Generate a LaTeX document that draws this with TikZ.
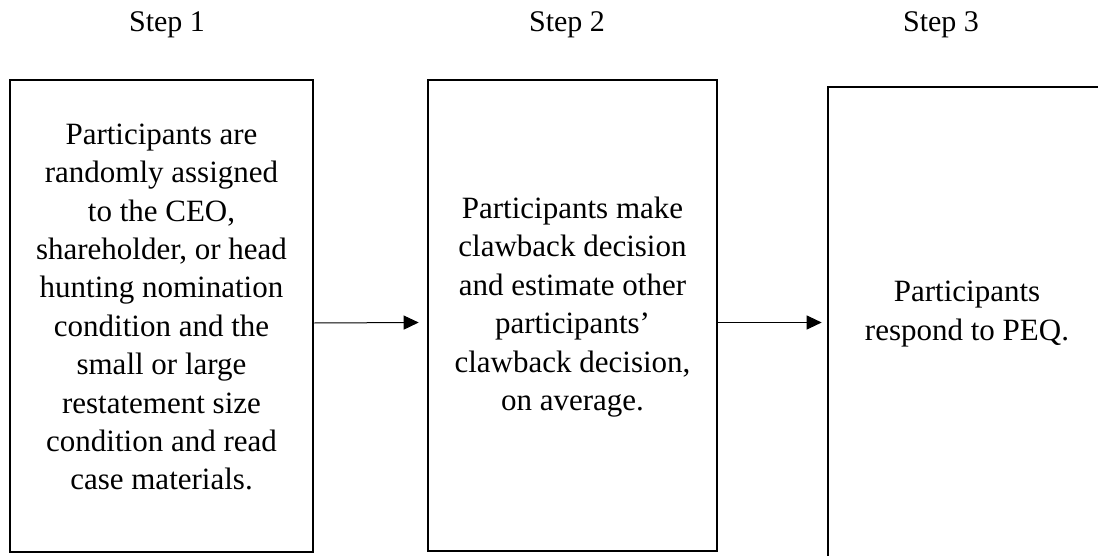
\documentclass[tikz,border=0pt]{standalone}
\usepackage{fontspec}
\setmainfont{Liberation Serif}
\usetikzlibrary{arrows.meta}

\begin{document}
\begin{tikzpicture}[x=0.5pt,y=-0.5pt,
    every node/.style={font=\fontsize{15.5}{19.2}\selectfont},
    stepbox/.style={draw,line width=1.3pt,minimum width=#1,inner sep=0pt},
    boxtext/.style={align=center,inner sep=0pt},
    steplabel/.style={anchor=base,inner sep=0pt,font=\fontsize{15}{18}\selectfont},
    flow/.style={line width=0.5pt,-{Triangle[length=7.5pt,width=7pt]}}]
    \useasboundingbox (0,0) rectangle (1098,556);
    \clip (0,0) rectangle (1098,556);
    % step headings
    \node[steplabel] (s1) at (167,32) {Step 1};
    \node[steplabel] (s2) at (567,32) {Step 2};
    \node[steplabel] (s3) at (941,32) {Step 3};
    % boxes
    \node[stepbox=151.5pt,minimum height=236pt] (box1) at (161.5,316) {};
    \node[stepbox=144.5pt,minimum height=235.5pt] (box2) at (572.5,315.5) {};
    \node[stepbox=139pt,minimum height=250pt] (box3) at (967,337) {};
    % texts
    \node[boxtext] (t1) at (161.5,307) {Participants are\\randomly assigned\\to the CEO,\\shareholder, or head\\hunting nomination\\condition and the\\small or large\\restatement size\\condition and read\\case materials.};
    \node[boxtext] (t2) at (572.5,307) {Participants make\\clawback decision\\and estimate other\\participants’\\clawback decision,\\on average.};
    \node[boxtext] (t3) at (967,314) {Participants\\respond to PEQ.};
    % arrows
    \draw[flow] ([yshift=-3.5pt]box1.east) -- ([xshift=-4pt,yshift=-3.5pt]box2.west);
    \draw[flow] ([yshift=-3.5pt]box2.east) -- ([xshift=-2.5pt,yshift=-3.5pt]box2.east -| box3.west);
\end{tikzpicture}
\end{document}
